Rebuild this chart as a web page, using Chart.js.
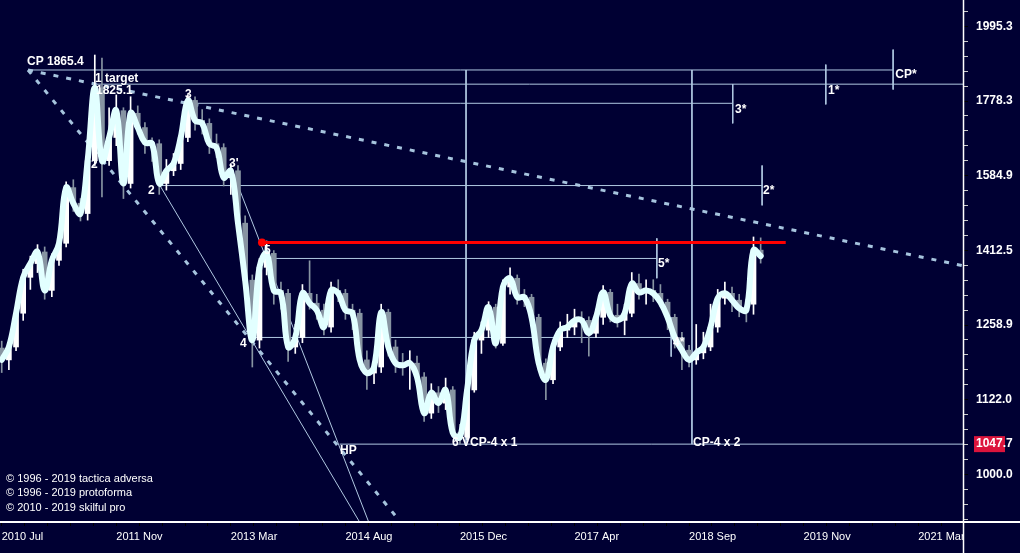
<!DOCTYPE html>
<html>
<head>
<meta charset="utf-8">
<script src="https://cdn.jsdelivr.net/npm/chart.js@4.4.1/dist/chart.umd.min.js"></script>
<style>
  html, body { margin: 0; padding: 0; background: #000033; }
</style>
</head>
<body>
<canvas id="chart" width="1020" height="553"></canvas>
<script>
// monthly candles, index 0 = 2010 Jul
const opens = [1215,1193,1217,1282,1355,1384,1409,1328,1391,1428, 1556,1519,1495,1622,1815,1622,1681,1752,1566,1745,
  1707,1668,1665,1566,1597,1615,1681,1780,1726,1718, 1665,1655,1580,1597,1473,1349,1230,1376,1406,1328,
  1322,1217,1235,1322,1302,1288,1255,1328,1322,1288, 1282,1193,1169,1180,1284,1217,1187,1183,1187,1162,
  1099,1134,1116,1139,1066,1059,1139,1230,1249,1294, 1224,1335,1353,1318,1314,1274,1187,1157,1217,1249,
  1255,1272,1268,1243,1274,1324,1278,1268,1282,1342, 1324,1328,1322,1304,1274,1235,1211,1193,1206,1217,
  1255,1312,1322,1308,1292,1300,1413];
const closes = [1193,1217,1282,1355,1384,1409,1328,1391,1428,1556, 1519,1495,1622,1815,1622,1681,1752,1566,1745,1707,
  1668,1665,1566,1597,1615,1681,1780,1726,1718,1665, 1655,1580,1597,1473,1349,1230,1376,1406,1328,1322,
  1217,1235,1322,1302,1288,1255,1328,1322,1288,1282, 1193,1169,1180,1284,1217,1187,1183,1187,1162,1099,
  1134,1116,1139,1066,1059,1139,1230,1249,1294,1224, 1335,1353,1314,1314,1274,1187,1157,1217,1249,1255,
  1268,1268,1243,1274,1324,1278,1268,1282,1342,1324, 1328,1322,1304,1274,1235,1211,1193,1206,1217,1255,
  1312,1322,1308,1292,1288,1413,1400];
const highs = [1228,1232,1296,1372,1400,1425,1420,1405,1445,1570, 1575,1530,1640,1909,1900,1760,1795,1760,1790,1765,
  1720,1680,1675,1625,1640,1700,1796,1790,1755,1730, 1690,1665,1615,1610,1490,1360,1395,1433,1412,1345,
  1330,1260,1340,1390,1320,1300,1345,1350,1330,1300, 1290,1210,1200,1300,1290,1230,1205,1210,1200,1170,
  1150,1145,1160,1145,1080,1150,1245,1265,1305,1300, 1350,1375,1360,1330,1320,1280,1195,1230,1265,1280,
  1290,1285,1275,1290,1338,1330,1300,1300,1365,1362, 1350,1350,1340,1310,1280,1245,1220,1260,1245,1300,
  1330,1345,1335,1320,1310,1442,1440];
const lows = [1170,1175,1210,1268,1330,1365,1310,1315,1380,1420, 1500,1478,1480,1610,1534,1610,1660,1530,1555,1690,
  1640,1620,1540,1550,1585,1600,1670,1700,1690,1640, 1630,1560,1540,1440,1320,1180,1215,1360,1300,1290,
  1190,1205,1225,1290,1270,1240,1245,1305,1270,1250, 1180,1140,1150,1170,1200,1170,1165,1140,1145,1085,
  1090,1100,1105,1060,1047.7,1055,1135,1205,1235,1215, 1220,1320,1300,1295,1255,1175,1122,1150,1210,1235,
  1240,1225,1200,1235,1260,1265,1255,1240,1275,1310, 1300,1305,1295,1250,1215,1175,1180,1185,1195,1210,
  1245,1300,1285,1275,1265,1280,1385];

const tickLabels = ["2010 Jul","2011 Nov","2013 Mar","2014 Aug","2015 Dec","2017 Apr","2018 Sep","2019 Nov","2021 Mar"];

// horizontal levels (value, start index, end index)
const levelValues = [1865.4, 1825.1, 1772, 1561, 1395, 1235, 1047.7];
const levelStart  = [3.67, 13.03, 26.0, 22.1, 37.2, 34.7, 47.2];
const levelEnd    = [124.5, 135, 102.1, 106.2, 91.5, 93.5, 135];

// vertical markers
const markX      = [64.85, 96.4, 102.1, 106.2, 91.5, 93.5, 115.1, 124.5];
const markTop    = [1865.4, 1865.4, 1825, 1610, 1439, 1274, 1881, 1925];
const markBottom = [1047.7, 1047.7, 1718, 1514, 1353, 1199, 1769, 1810];

// trend lines
const dottedLines = [
  [[3.67, 1865.4], [134.1, 1380]],
  [[3.67, 1865.4], [55.6, 930.6]]
];
const thinLines = [
  [[22.1, 1561], [49.9, 930.6]],
  [[32.2, 1597], [51.2, 930.6]]
];
const redLevel = [[36.35, 1430], [109.5, 1430]];

// wave labels
const noteText = ["CP 1865.4","1 target","1825.1","3","2","2","3'","5","4","HP","6 VCP-4 x 1","CP-4 x 2","5*","4*","3*","2*","1*","CP*"];
const noteX = [3.53, 13.03, 13.17, 25.6, 12.47, 20.43, 31.75, 36.63, 33.28, 47.25, 62.89, 96.55, 91.66, 93.76, 102.42, 106.33, 115.4, 124.8];
const noteY = [1889, 1840, 1806, 1795, 1612, 1548, 1614, 1411, 1223, 1036.8, 1049.6, 1049.6, 1383, 1225, 1754, 1548, 1806, 1851];

const lastLow = 1047.7;

const BG = "#000033";
const UP = "#ffffff";
const DOWN = "#8794a2";
const THIN = "#b0c8e2";

function seg(pts) {
  return pts.map((p) => ({ x: p[0], y: p[1] }));
}

const datasets = [];

// smooth line on top
datasets.push({
  type: "line",
  data: closes.map((c, i) => ({ x: i, y: c })),
  borderColor: "#e2ffff",
  borderWidth: 6,
  tension: 0.4,
  pointRadius: 0,
  borderCapStyle: "round",
  borderJoinStyle: "round",
  order: 0,
});

datasets.push({
  type: "line",
  data: seg(redLevel),
  borderColor: "#ff0000",
  borderWidth: 3,
  pointRadius: [4, 0],
  pointBackgroundColor: "#ff0000",
  pointBorderWidth: 0,
  order: 0,
});

// candles
datasets.push({
  type: "bar",
  data: closes.map((c, i) => ({ x: i, y: [opens[i], c] })),
  backgroundColor: closes.map((c, i) => (c >= opens[i] ? UP : DOWN)),
  barThickness: 5,
  grouped: false,
  order: 1,
});
datasets.push({
  type: "bar",
  data: closes.map((c, i) => ({ x: i, y: [lows[i], highs[i]] })),
  backgroundColor: closes.map((c, i) => (c >= opens[i] ? UP : DOWN)),
  barThickness: 1,
  grouped: false,
  order: 2,
});

levelValues.forEach((v, k) => {
  datasets.push({
    type: "line",
    data: [{ x: levelStart[k], y: v }, { x: levelEnd[k], y: v }],
    borderColor: THIN, borderWidth: 1, pointRadius: 0, order: 3,
  });
});
markX.forEach((x, k) => {
  datasets.push({
    type: "line",
    data: [{ x: x, y: markTop[k] }, { x: x, y: markBottom[k] }],
    borderColor: THIN, borderWidth: 1, pointRadius: 0, order: 3,
  });
});
thinLines.forEach((l) => {
  datasets.push({
    type: "line", data: seg(l),
    borderColor: THIN, borderWidth: 1, pointRadius: 0, order: 3,
  });
});
dottedLines.forEach((l) => {
  datasets.push({
    type: "line", data: seg(l),
    borderColor: "#a6c4de", borderWidth: 3, borderDash: [5, 8],
    pointRadius: 0, order: 3,
  });
});

const decor = {
  id: "decor",
  beforeDraw(chart) {
    const c = chart.ctx;
    c.save();
    c.fillStyle = BG;
    c.fillRect(0, 0, chart.width, chart.height);
    const y = chart.scales.y.getPixelForValue(lastLow);
    c.fillStyle = "#dc143c";
    c.fillRect(974, y - 8, 31, 16);
    c.restore();
  },
  afterDatasetsDraw(chart) {
    const c = chart.ctx;
    const xs = chart.scales.x, ys = chart.scales.y;
    c.save();
    c.fillStyle = "#ffffff";
    c.font = "bold 12px Arial, 'Liberation Sans', sans-serif";
    c.textBaseline = "middle";
    c.textAlign = "left";
    noteText.forEach((t, k) => {
      c.fillText(t, xs.getPixelForValue(noteX[k]), ys.getPixelForValue(noteY[k]));
    });
    c.font = "11px Arial, 'Liberation Sans', sans-serif";
    c.fillText("\u00a9 1996 - 2019 tactica adversa", 6, 479);
    c.fillText("\u00a9 1996 - 2019 protoforma", 6, 493);
    c.fillText("\u00a9 2010 - 2019 skilful pro", 6, 508);
    c.restore();
  },
  afterDraw(chart) {
    const c = chart.ctx;
    const a = chart.chartArea;
    c.save();
    c.fillStyle = BG;
    c.fillRect(a.right + 1, a.bottom + 1, chart.width - a.right, chart.height - a.bottom);
    c.strokeStyle = "#ffffff";
    c.lineWidth = 2;
    c.beginPath();
    c.moveTo(0, a.bottom + 1);
    c.lineTo(chart.width, a.bottom + 1);
    c.stroke();
    c.lineWidth = 1.5;
    c.beginPath();
    c.moveTo(a.right + 0.5, 0);
    c.lineTo(a.right + 0.5, chart.height);
    c.stroke();
    c.restore();
  },
};

new Chart(document.getElementById("chart"), {
  type: "bar",
  data: { datasets },
  options: {
    responsive: false,
    animation: false,
    layout: { padding: 0, autoPadding: false },
    plugins: { legend: { display: false }, tooltip: { enabled: false } },
    scales: {
      x: {
        type: "linear",
        offset: false,
        min: -0.24,
        max: 134.26,
        afterBuildTicks(scale) {
          const t = [];
          for (let k = 0; k * 3.2 <= 134; k++) t.push({ value: k * 3.2 });
          scale.ticks = t;
        },
        afterFit(scale) {
          scale.height = 32;
          scale.paddingLeft = 0;
          scale.paddingRight = 0;
        },
        grid: { drawOnChartArea: false, offset: false, tickLength: 5, tickColor: "#000000" },
        border: { display: false },
        ticks: {
          autoSkip: false,
          maxRotation: 0,
          align: "start",
          padding: 4,
          color: "#ffffff",
          font: { family: "Arial, 'Liberation Sans', sans-serif", size: 11 },
          callback(value) {
            const k = Math.round(value / 3.2);
            return k % 5 === 0 ? tickLabels[k / 5] : "";
          },
        },
      },
      y: {
        type: "logarithmic",
        position: "right",
        min: 930.6,
        max: 2078,
        afterBuildTicks(scale) {
          const t = [];
          for (let k = 297; k <= 331; k++) t.push({ value: Math.pow(10, k / 100) });
          t.push({ value: lastLow });
          scale.ticks = t;
        },
        afterFit(scale) {
          scale.width = 57;
          scale.paddingTop = 0;
          scale.paddingBottom = 0;
        },
        grid: {
          drawOnChartArea: false,
          tickLength: 5,
          tickColor(ctx) {
            const v = ctx.tick ? ctx.tick.value : 0;
            const k = Math.round(Math.log10(v) * 100);
            return k % 5 === 0 ? "#000000" : "#c8c8c8";
          },
        },
        border: { display: false },
        ticks: {
          autoSkip: false,
          padding: 8,
          color: "#ffffff",
          font: { family: "Arial, 'Liberation Sans', sans-serif", size: 12, weight: "bold" },
          callback(value) {
            if (value === lastLow) return lastLow.toFixed(1);
            const k = Math.round(Math.log10(value) * 100);
            return k % 5 === 0 ? value.toFixed(1) : "";
          },
        },
      },
    },
  },
  plugins: [decor],
});
</script>
</body>
</html>
